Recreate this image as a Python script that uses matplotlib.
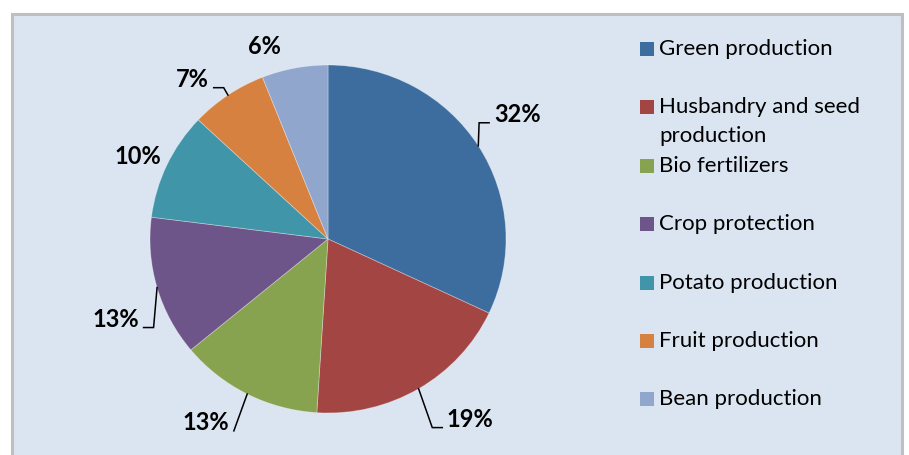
import numpy as np
import matplotlib.pyplot as plt
from matplotlib.patches import Rectangle

CATEGORIES = ["Green production", "Husbandry and seed\nproduction", "Bio fertilizers",
              "Crop protection", "Potato production", "Fruit production", "Bean production"]
SHARES = [32, 19, 13, 13, 10, 7, 6]
COLORS = ["#3D6D9E", "#A34543", "#87A34F", "#6E5589", "#4095A9", "#D6813F", "#91A6CD"]

# label placement per slice: (angle nudge in deg, radius, leader style)
# leader style: 0 = none, 1 = elbow, 2 = straight
LABEL_LAYOUT = [(1.5, 1.28, 1), (7.0, 1.31, 1), (-6.0, 1.26, 2),
                (5.0, 1.28, 1), (1.2, 1.17, 0), (5.5, 1.19, 1),
                (7.0, 1.16, 0)]

W, H = 909, 455
fig = plt.figure(figsize=(W / 100, H / 100), dpi=100, facecolor="white")

# chart area panel
fig.patches.append(Rectangle((12 / W, -0.05), 890 / W, (H - 14) / H + 0.05,
                             transform=fig.transFigure, facecolor="#DBE5F1",
                             edgecolor="#BFBFBF", linewidth=2.2, zorder=-5))

# pie box: x 150..506 px, y 65..413 px (from top)
px_l, px_r, px_t, px_b = 150, 506, 65, 413
ax = fig.add_axes([px_l / W, (H - px_b) / H, (px_r - px_l) / W, (px_b - px_t) / H])
ax.set_zorder(1)
ax.patch.set_visible(False)
ax.axis("off")

wedges, _ = ax.pie(SHARES, colors=COLORS, startangle=90, counterclock=False,
                   radius=1, wedgeprops=dict(edgecolor=(1, 1, 1, 0.35), linewidth=0.6))
ax.set_xlim(-1, 1)
ax.set_ylim(-1, 1)
ax.set_aspect("auto")

sx = 2 / (px_r - px_l)   # data units per px, horizontal
sy = 2 / (px_b - px_t)   # data units per px, vertical
label_font = dict(family=["Lato", "DejaVu Sans"], fontsize=17, fontweight="bold", color="black")

for w, val, (nudge, r, leader) in zip(wedges, SHARES, LABEL_LAYOUT):
    mid = np.deg2rad((w.theta1 + w.theta2) / 2)
    lab = mid + np.deg2rad(nudge)
    lx, ly = r * np.cos(lab), r * np.sin(lab)
    ax.text(lx, ly, f"{val}%", ha="center", va="center", clip_on=False, **label_font)
    if leader == 0:
        continue
    side = 1 if lx > 0 else -1
    half_w = 23 if val >= 10 else 16
    hx_end = lx - side * (half_w + 5) * sx
    hy = ly - 8 * sy
    x0, y0 = np.cos(mid), np.sin(mid)
    if leader == 1:
        hx_start = hx_end - side * 10 * sx
        xs, ys = [x0, hx_start, hx_end], [y0, hy, hy]
    else:
        xs, ys = [x0, hx_end], [y0, hy]
    ax.plot(xs, ys, color="black", lw=1.1, solid_joinstyle="miter", clip_on=False)

# legend
legend_font = dict(family=["Lato", "DejaVu Sans"], fontsize=16, color="black")
y0_px, step_px = 49, 58.4
for i, (name, col) in enumerate(zip(CATEGORIES, COLORS)):
    yc = y0_px + i * step_px
    fig.patches.append(Rectangle((640 / W, (H - yc - 7) / H), 14 / W, 14 / H,
                                 transform=fig.transFigure, facecolor=col,
                                 edgecolor="none", zorder=2))
    fig.text(659 / W, (H - yc + 10) / H, name, ha="left", va="top",
             linespacing=1.55, **legend_font)

fig.savefig("out.png", dpi=100, facecolor="white")
